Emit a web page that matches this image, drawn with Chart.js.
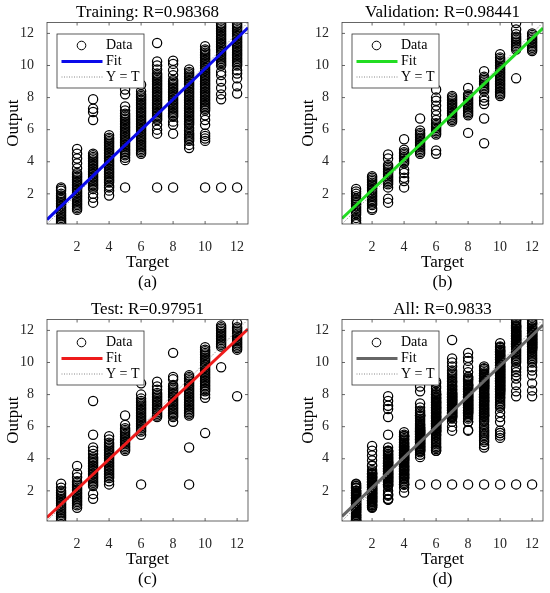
<!DOCTYPE html>
<html>
<head>
<meta charset="utf-8">
<script src="https://cdn.jsdelivr.net/npm/chart.js@4.4.1/dist/chart.umd.min.js"></script>
<style>
  html, body { margin: 0; padding: 0; background: #fff; }
  #wrap { position: relative; width: 550px; height: 593px; overflow: hidden; }
  canvas { position: absolute; }
</style>
</head>
<body>
<div id="wrap">
  <canvas id="cA" width="275" height="296" style="left:0;top:0"></canvas>
  <canvas id="cB" width="275" height="296" style="left:275px;top:0"></canvas>
  <canvas id="cC" width="275" height="296" style="left:0;top:297px"></canvas>
  <canvas id="cD" width="275" height="296" style="left:275px;top:297px"></canvas>
</div>
<script>
// targets (classes) on the x axis
const targets = [1, 2, 3, 4, 5, 6, 7, 8, 9, 10, 11, 12];

// network outputs per target (one list per target)
const trainOut = [
  [2.4, 2.3, 2.2, 2.0, 1.9, 1.8, 1.7, 1.6, 1.5, 1.4, 1.3, 1.2, 1.1, 1.0, 0.9, 0.8, 0.7, 0.6, 0.5, 0.4, 0.3, 0.2, 0.1],
  [4.8, 4.5, 4.2, 3.9, 3.6, 3.3, 3.2, 3.1, 3.0, 2.9, 2.8, 2.7, 2.6, 2.5, 2.4, 2.3, 2.2, 2.1, 2.0, 1.9, 1.8, 1.7, 1.6, 1.5, 1.4, 1.3, 1.2, 1.1, 1.0],
  [7.9, 7.3, 7.1, 6.6, 4.5, 4.4, 4.3, 4.2, 4.1, 4.0, 3.9, 3.8, 3.7, 3.6, 3.5, 3.4, 3.3, 3.2, 3.1, 3.0, 2.9, 2.8, 2.7, 2.6, 2.5, 2.4, 2.3, 2.0, 1.75, 1.45],
  [5.65, 5.5, 5.4, 5.3, 5.2, 5.1, 5.0, 4.9, 4.8, 4.7, 4.6, 4.5, 4.4, 4.3, 4.2, 4.1, 4.0, 3.9, 3.8, 3.7, 3.6, 3.5, 3.4, 3.3, 3.2, 3.1, 3.0, 2.9, 2.8, 2.7, 2.5, 2.4, 2.2, 1.9],
  [8.5, 8.2, 7.45, 7.2, 7.0, 6.9, 6.8, 6.7, 6.6, 6.5, 6.4, 6.3, 6.2, 6.1, 6.0, 5.9, 5.8, 5.7, 5.6, 5.5, 5.4, 5.3, 5.2, 5.1, 5.0, 4.9, 4.8, 4.7, 4.6, 4.5, 4.4, 4.25, 4.1, 2.4],
  [8.8, 8.4, 8.2, 8.1, 8.0, 7.9, 7.8, 7.7, 7.6, 7.5, 7.4, 7.3, 7.2, 7.1, 7.0, 6.9, 6.8, 6.7, 6.6, 6.5, 6.4, 6.3, 6.2, 6.1, 6.0, 5.9, 5.8, 5.7, 5.6, 5.5, 5.4, 5.3, 5.2, 5.1, 5.0, 4.9, 4.8, 4.7, 4.6, 4.5],
  [11.4, 10.25, 10.0, 9.75, 9.5, 9.4, 9.3, 9.2, 9.1, 9.0, 8.9, 8.8, 8.7, 8.6, 8.5, 8.4, 8.3, 8.2, 8.1, 8.0, 7.9, 7.8, 7.7, 7.6, 7.5, 7.4, 7.3, 7.2, 7.1, 7.0, 6.9, 6.8, 6.7, 6.6, 6.3, 6.0, 5.75, 2.4],
  [10.3, 10.1, 9.7, 9.4, 9.1, 9.0, 8.9, 8.8, 8.7, 8.6, 8.5, 8.4, 8.3, 8.2, 8.1, 8.0, 7.9, 7.8, 7.7, 7.6, 7.5, 7.4, 7.3, 7.2, 7.1, 7.0, 6.9, 6.8, 6.5, 6.3, 5.75, 2.4],
  [9.75, 9.6, 9.5, 9.4, 9.3, 9.2, 9.1, 9.0, 8.9, 8.8, 8.7, 8.6, 8.5, 8.4, 8.3, 8.2, 8.1, 8.0, 7.9, 7.8, 7.7, 7.6, 7.5, 7.4, 7.3, 7.2, 7.1, 7.0, 6.9, 6.8, 6.7, 6.6, 6.5, 6.4, 6.3, 6.1, 5.95, 5.8, 5.7, 5.6, 5.5, 5.4, 5.3, 5.05, 4.85],
  [11.2, 11.0, 10.9, 10.8, 10.7, 10.6, 10.5, 10.4, 10.3, 10.2, 10.1, 10.0, 9.9, 9.8, 9.7, 9.6, 9.5, 9.4, 9.3, 9.2, 9.1, 9.0, 8.9, 8.8, 8.7, 8.6, 8.5, 8.4, 8.3, 8.2, 8.1, 8.0, 7.9, 7.8, 7.7, 7.6, 7.5, 7.4, 7.3, 7.2, 6.9, 6.6, 6.3, 5.75, 5.6, 5.45, 5.3, 2.4],
  [12.6, 12.5, 12.4, 12.3, 12.2, 12.1, 12.0, 11.9, 11.8, 11.7, 11.6, 11.5, 11.4, 11.3, 11.2, 11.1, 11.0, 10.9, 10.8, 10.7, 10.6, 10.5, 10.4, 10.3, 10.2, 10.1, 10.0, 9.6, 9.4, 9.0, 8.6, 8.2, 7.9, 2.4],
  [12.6, 12.5, 12.4, 12.3, 12.2, 12.1, 12.0, 11.9, 11.8, 11.7, 11.6, 11.5, 11.4, 11.3, 11.2, 11.1, 11.0, 10.9, 10.8, 10.7, 10.6, 10.5, 10.4, 10.3, 10.2, 10.1, 10.0, 9.7, 9.5, 9.2, 8.7, 8.25, 2.4]
];
const valOut = [
  [2.3, 2.15, 2.0, 1.85, 1.7, 1.6, 1.5, 1.4, 1.3, 1.2, 1.1, 1.0, 0.9, 0.8, 0.7, 0.5, 0.35, 0.2, 0.1],
  [3.1, 3.0, 2.9, 2.8, 2.7, 2.6, 2.5, 2.4, 2.3, 2.2, 2.1, 2.0, 1.9, 1.8, 1.7, 1.6, 1.5, 1.4, 1.3, 1.1, 1.0],
  [4.45, 4.2, 3.8, 3.7, 3.6, 3.5, 3.4, 3.3, 3.2, 3.1, 3.0, 2.9, 2.8, 2.7, 2.6, 2.4, 1.7, 1.45],
  [5.4, 4.75, 4.6, 4.5, 4.4, 4.3, 4.2, 4.1, 4.0, 3.9, 3.5, 3.3, 3.0, 2.8, 2.4],
  [6.7, 5.95, 5.8, 5.7, 5.6, 5.5, 5.4, 5.3, 5.2, 5.1, 5.0, 4.9, 4.8, 4.7, 4.6, 4.5],
  [8.5, 8.0, 7.8, 7.5, 7.2, 6.9, 6.6, 6.4, 6.3, 6.2, 6.1, 6.0, 5.9, 5.8, 5.7, 4.7, 4.5],
  [8.1, 8.0, 7.9, 7.8, 7.7, 7.6, 7.5, 7.4, 7.3, 7.2, 7.1, 7.0, 6.9, 6.8, 6.7, 6.6, 6.5],
  [8.6, 8.2, 8.1, 8.0, 7.9, 7.8, 7.7, 7.6, 7.5, 7.4, 7.3, 7.2, 7.1, 7.0, 6.9, 5.8],
  [9.65, 9.3, 9.2, 9.1, 9.0, 8.9, 8.8, 8.7, 8.6, 8.5, 8.4, 8.0, 7.8, 7.6, 6.7, 5.15],
  [10.7, 10.5, 10.4, 10.3, 10.2, 10.1, 10.0, 9.9, 9.8, 9.7, 9.6, 9.5, 9.4, 9.3, 9.2, 9.1, 9.0, 8.9, 8.8, 8.7, 8.6, 8.5, 8.4, 8.3, 8.2, 8.1],
  [12.65, 12.25, 11.95, 11.8, 11.7, 11.6, 11.5, 11.4, 11.3, 11.2, 11.1, 11.0, 9.2],
  [12.0, 11.9, 11.8, 11.7, 11.6, 11.5, 11.4, 11.3, 11.2, 11.1, 11.0, 10.9]
];
const testOut = [
  [2.45, 2.2, 2.0, 1.9, 1.8, 1.7, 1.6, 1.5, 1.4, 1.3, 1.2, 1.1, 1.0, 0.9, 0.8, 0.7, 0.6, 0.5, 0.4, 0.3, 0.15],
  [3.55, 3.1, 2.85, 2.6, 2.5, 2.4, 2.3, 2.2, 2.1, 2.0, 1.9, 1.8, 1.7, 1.6, 1.5, 1.4, 1.3, 1.2, 1.1, 0.95],
  [7.6, 5.5, 4.7, 4.5, 4.3, 4.1, 4.0, 3.9, 3.8, 3.7, 3.6, 3.5, 3.4, 3.3, 3.2, 3.1, 3.0, 2.9, 2.8, 2.7, 2.6, 2.5, 2.4, 2.3, 1.8, 1.5],
  [5.4, 5.2, 5.0, 4.9, 4.8, 4.7, 4.6, 4.5, 4.4, 4.3, 4.2, 4.1, 4.0, 3.9, 3.8, 3.7, 3.6, 3.5, 3.4, 3.3, 3.2, 3.1, 3.0, 2.9, 2.8, 2.6, 2.4],
  [6.7, 6.1, 5.9, 5.8, 5.7, 5.6, 5.5, 5.4, 5.3, 5.2, 5.1, 5.0, 4.9, 4.8, 4.7, 4.6, 4.5],
  [8.7, 8.0, 7.75, 7.6, 7.5, 7.4, 7.3, 7.2, 7.1, 7.0, 6.9, 6.8, 6.7, 6.6, 6.5, 6.4, 6.3, 6.2, 6.1, 6.0, 5.9, 5.8, 5.7, 5.5, 2.4],
  [8.8, 8.5, 8.3, 8.1, 8.0, 7.9, 7.8, 7.7, 7.6, 7.5, 7.4, 7.3, 7.2, 7.1, 7.0, 6.9, 6.8, 6.7, 6.6],
  [10.6, 9.1, 8.95, 8.6, 8.5, 8.4, 8.3, 8.2, 8.1, 8.0, 7.9, 7.8, 7.7, 7.6, 7.5, 7.4, 7.3, 7.2, 7.1, 7.0, 6.9, 6.8, 6.7, 6.6, 6.3],
  [9.2, 9.1, 9.0, 8.9, 8.8, 8.7, 8.6, 8.5, 8.4, 8.3, 8.2, 8.1, 8.0, 7.9, 7.8, 7.7, 7.6, 7.5, 7.4, 7.3, 7.2, 7.1, 7.0, 6.9, 6.8, 6.7, 4.7, 2.4],
  [10.95, 10.8, 10.7, 10.6, 10.5, 10.4, 10.3, 10.2, 10.1, 10.0, 9.9, 9.8, 9.7, 9.6, 9.5, 9.4, 9.3, 9.2, 9.1, 9.0, 8.9, 8.8, 8.7, 8.6, 8.5, 8.4, 8.3, 8.2, 8.0, 7.8, 5.6],
  [12.3, 12.2, 12.1, 12.0, 11.9, 11.8, 11.7, 11.6, 11.5, 11.4, 11.3, 11.2, 11.1, 11.0, 9.7],
  [12.45, 12.2, 12.1, 12.0, 11.9, 11.8, 11.7, 11.6, 11.5, 11.4, 11.3, 11.2, 11.1, 11.0, 10.9, 10.8, 7.9]
];
// "All" panel is the three sets together
const allOut = targets.map((t, i) => trainOut[i].concat(valOut[i], testOut[i]));

const tickVals = [2, 4, 6, 8, 10, 12];
const axisMin = 0.12, axisMax = 12.68;

const titles = ['Training: R=0.98368', 'Validation: R=0.98441', 'Test: R=0.97951', 'All: R=0.9833'];
const panelTags = ['(a)', '(b)', '(c)', '(d)'];
// linear fit Output ~= slope*Target + intercept
const fitSlope = [0.952, 0.945, 0.935, 0.95];
const fitIntercept = [0.28, 0.35, 0.23, 0.29];
const fitColors = ['#0b0bea', '#22dd22', '#ee1b1b', '#666666'];

const serif = 'Liberation Serif';

function toPoints(outs) {
  return outs.flatMap((vals, i) => vals.map(v => ({ x: targets[i], y: v })));
}

// box, inward ticks and the legend (MATLAB style)
const frame = {
  id: 'frame',
  afterDraw(chart) {
    const { ctx, chartArea: a, scales: { x, y } } = chart;
    const ds = chart.data.datasets;
    ctx.save();
    ctx.strokeStyle = '#404040';
    ctx.lineWidth = 0.8;
    ctx.strokeRect(a.left, a.top, a.right - a.left, a.bottom - a.top);
    ctx.beginPath();
    tickVals.forEach(v => {
      const px = x.getPixelForValue(v), py = y.getPixelForValue(v);
      ctx.moveTo(px, a.bottom); ctx.lineTo(px, a.bottom - 3);
      ctx.moveTo(px, a.top); ctx.lineTo(px, a.top + 3);
      ctx.moveTo(a.left, py); ctx.lineTo(a.left + 3, py);
      ctx.moveTo(a.right, py); ctx.lineTo(a.right - 3, py);
    });
    ctx.stroke();

    // legend box
    const bx = a.left + 10, by = a.top + 11.5, bw = 87, bh = 54;
    ctx.fillStyle = '#fff';
    ctx.fillRect(bx, by, bw, bh);
    ctx.strokeStyle = '#333';
    ctx.strokeRect(bx, by, bw, bh);
    const rows = [by + 11.5, by + 27.5, by + 43];

    ctx.beginPath();
    ctx.lineWidth = 1;
    ctx.strokeStyle = '#000';
    ctx.arc(bx + 24.5, rows[0], 4.3, 0, Math.PI * 2);
    ctx.stroke();

    ctx.beginPath();
    ctx.lineWidth = 3;
    ctx.strokeStyle = ds[1].borderColor;
    ctx.moveTo(bx + 4.5, rows[1]); ctx.lineTo(bx + 45.5, rows[1]);
    ctx.stroke();

    ctx.beginPath();
    ctx.lineWidth = 1;
    ctx.strokeStyle = '#888';
    ctx.setLineDash([1, 1.5]);
    ctx.moveTo(bx + 4.5, rows[2]); ctx.lineTo(bx + 45.5, rows[2]);
    ctx.stroke();
    ctx.setLineDash([]);

    ctx.fillStyle = '#000';
    ctx.font = '14px "' + serif + '"';
    ctx.textBaseline = 'middle';
    ctx.textAlign = 'left';
    ds.forEach((d, i) => ctx.fillText(d.label, bx + 49, rows[i]));
    ctx.restore();
  }
};

function makeChart(id, k, outs, padLeft, padRight) {
  const ctx = document.getElementById(id).getContext('2d');
  return new Chart(ctx, {
    type: 'scatter',
    data: {
      datasets: [
        {
          label: 'Data',
          data: toPoints(outs),
          pointStyle: 'circle',
          pointRadius: 4.6,
          pointBorderWidth: 1.25,
          pointBorderColor: '#000',
          pointBackgroundColor: 'rgba(0,0,0,0)',
          order: 2
        },
        {
          label: 'Fit',
          type: 'line',
          data: [
            { x: axisMin, y: fitSlope[k] * axisMin + fitIntercept[k] },
            { x: axisMax, y: fitSlope[k] * axisMax + fitIntercept[k] }
          ],
          borderColor: fitColors[k],
          borderWidth: 3,
          pointRadius: 0,
          order: 0
        },
        {
          label: 'Y = T',
          type: 'line',
          data: [{ x: axisMin, y: axisMin }, { x: axisMax, y: axisMax }],
          borderColor: '#888',
          borderWidth: 1,
          borderDash: [1, 1.5],
          pointRadius: 0,
          order: 1
        }
      ]
    },
    options: {
      responsive: false,
      animation: false,
      layout: { padding: { left: padLeft, right: padRight, top: 0, bottom: 0 } },
      plugins: {
        legend: { display: false },
        tooltip: { enabled: false },
        title: {
          display: true,
          text: titles[k],
          fullSize: false,
          color: '#000',
          font: { family: serif, size: 17, weight: 'normal', lineHeight: 1 },
          padding: { top: 4.5, bottom: 1 }
        }
      },
      scales: {
        x: {
          type: 'linear',
          min: axisMin,
          max: axisMax,
          grid: { display: false },
          border: { display: false },
          afterBuildTicks: s => { s.ticks = tickVals.map(v => ({ value: v })); },
          afterFit: s => { s.height = 72; },
          ticks: { font: { family: serif, size: 14 }, color: '#262626', padding: 7, maxRotation: 0 },
          title: {
            display: true,
            text: ['Target', panelTags[k]],
            color: '#000',
            font: { family: serif, size: 17, lineHeight: 1.18 },
            padding: { top: 0, bottom: 3 }
          }
        },
        y: {
          type: 'linear',
          min: axisMin,
          max: axisMax,
          grid: { display: false },
          border: { display: false },
          afterBuildTicks: s => { s.ticks = tickVals.map(v => ({ value: v })); },
          afterFit: s => { s.width = 47; },
          ticks: { font: { family: serif, size: 14 }, color: '#262626', padding: 5 },
          title: {
            display: true,
            text: 'Output',
            color: '#000',
            font: { family: serif, size: 17, lineHeight: 1.2 },
            padding: { top: 3, bottom: 0 }
          }
        }
      }
    },
    plugins: [frame]
  });
}

makeChart('cA', 0, trainOut, 0, 27);
makeChart('cB', 1, valOut, 20, 7);
makeChart('cC', 2, testOut, 0, 27);
makeChart('cD', 3, allOut, 20, 7);
</script>
</body>
</html>
